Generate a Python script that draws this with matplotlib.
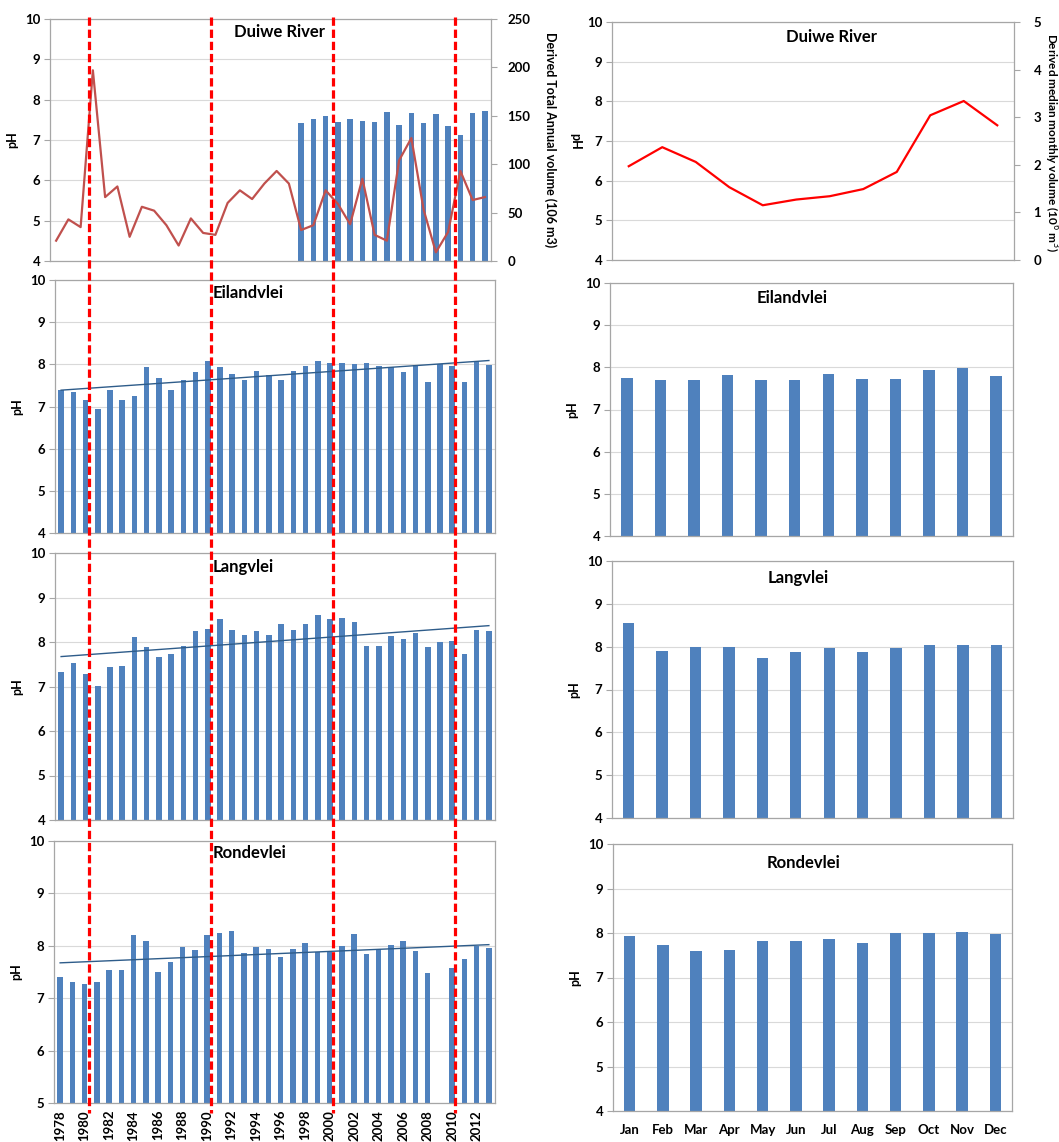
import numpy as np
import matplotlib
matplotlib.use("Agg")
import matplotlib.pyplot as plt
from matplotlib.lines import Line2D
import matplotlib.transforms as mtransforms

plt.rcParams['font.family'] = ['Lato', 'DejaVu Sans']

# ---------------- data ----------------
years = list(range(1978, 2014))
year_labels = [str(y) for y in range(1978, 2014, 2)]
months = ["Jan", "Feb", "Mar", "Apr", "May", "Jun", "Jul", "Aug", "Sep", "Oct", "Nov", "Dec"]

duiwe_volume = [21, 43, 35, 197, 66, 77, 25, 56, 52, 37, 16, 44, 29, 27, 60, 73, 64, 80,
                93, 80, 32, 37, 73, 59, 38, 85, 27, 21, 104, 127, 53, 9, 30, 93, 63, 66]
duiwe_ph_years = list(range(1998, 2014))
duiwe_ph = [7.42, 7.51, 7.60, 7.44, 7.52, 7.46, 7.45, 7.70, 7.37, 7.66, 7.41, 7.65,
            7.35, 7.12, 7.67, 7.72]

eiland_ph = [7.39, 7.34, 7.16, 6.93, 7.40, 7.15, 7.25, 7.93, 7.68, 7.40, 7.64, 7.81,
             8.09, 7.94, 7.78, 7.64, 7.84, 7.74, 7.64, 7.84, 7.96, 8.09, 8.02, 8.02,
             8.01, 8.02, 7.95, 7.94, 7.83, 7.98, 7.59, 8.01, 7.96, 7.57, 8.08, 7.98]
lang_ph = [7.32, 7.52, 7.27, 7.01, 7.43, 7.46, 8.12, 7.88, 7.66, 7.74, 7.90, 8.24,
           8.30, 8.51, 8.26, 8.15, 8.24, 8.15, 8.40, 8.27, 8.40, 8.60, 8.51, 8.53,
           8.44, 7.92, 7.92, 8.14, 8.07, 8.21, 7.89, 8.00, 8.02, 7.73, 8.27, 8.24]
ronde_ph = [7.40, 7.31, 7.27, 7.31, 7.54, 7.53, 8.20, 8.09, 7.50, 7.69, 7.98, 7.92,
            8.20, 8.25, 8.28, 7.87, 7.98, 7.93, 7.79, 7.93, 8.05, 7.88, 7.89, 7.99,
            8.22, 7.84, 7.93, 8.01, 8.10, 7.91, 7.49, np.nan, 7.58, 7.74, 8.00, 7.96]

duiwe_monthly_volume = [1.97, 2.37, 2.06, 1.53, 1.15, 1.27, 1.34, 1.49, 1.85, 3.04, 3.34, 2.83]
eiland_monthly = [7.75, 7.69, 7.71, 7.81, 7.71, 7.71, 7.84, 7.73, 7.73, 7.93, 7.99, 7.79]
lang_monthly = [8.55, 7.89, 8.00, 8.00, 7.73, 7.87, 7.96, 7.88, 7.96, 8.03, 8.05, 8.05]
ronde_monthly = [7.93, 7.72, 7.59, 7.62, 7.83, 7.83, 7.86, 7.78, 7.99, 8.00, 8.03, 7.98]

red_line_years = [1980.3, 1990.3, 2000.25, 2010.2]

# ---------------- style ----------------
W, H = 1059, 1142
BAR = "#4F81BD"
GRID = "#D9D9D9"
SPINE = "#A6A6A6"
TFS = 9.5

fig = plt.figure(figsize=(W / 100, H / 100), dpi=100)


def ax_px(l, t, r, b):
    return fig.add_axes([l / W, 1 - b / H, (r - l) / W, (b - t) / H])


def style(ax, ylim, yticks):
    ax.set_ylim(*ylim)
    ax.set_yticks(yticks)
    ax.grid(axis='y', color=GRID, lw=0.8)
    ax.set_axisbelow(True)
    for s in ax.spines.values():
        s.set_color(SPINE)
        s.set_linewidth(0.9)
    ax.tick_params(axis='y', direction='out', length=4, color=SPINE, labelsize=TFS, pad=3)
    ax.tick_params(axis='x', length=0, labelsize=TFS)
    for lab in ax.get_yticklabels():
        lab.set_fontweight('bold')
    ax.set_ylabel("pH", fontsize=9, fontweight='bold', labelpad=5)


def trend(ax, x, y):
    x = np.array(x, float)
    y = np.array(y, float)
    m = ~np.isnan(y)
    p = np.polyfit(x[m], y[m], 1)
    ax.plot(x, np.polyval(p, x), color="#2E5C8A", lw=1.0, zorder=3)


# ---------------- left column ----------------
axL1 = ax_px(50, 19, 491, 261)
axL1.bar(duiwe_ph_years, duiwe_ph, width=0.45, color=BAR, zorder=2)
axL1.set_xlim(years[0] - 0.5, years[-1] + 0.5)
style(axL1, (4, 10), range(4, 11))
axL1.set_xticks([])
axL1b = axL1.twinx()
axL1b.plot(years, duiwe_volume, color="#C0504D", lw=1.6, zorder=4)
axL1b.set_ylim(0, 250)
axL1b.set_yticks(range(0, 251, 50))
for s in axL1b.spines.values():
    s.set_visible(False)
axL1b.tick_params(axis='y', direction='out', length=4, color=SPINE, labelsize=TFS, pad=8)
for lab in axL1b.get_yticklabels():
    lab.set_fontweight('bold')

left_sets = [((55, 280, 495, 533), eiland_ph, (4, 10), range(4, 11)),
             ((55, 553, 495, 820), lang_ph, (4, 10), range(4, 11)),
             ((54, 841, 495, 1103), ronde_ph, (5, 10), range(5, 11))]
left_axes = []
for pos, vals, yl, yt in left_sets:
    ax = ax_px(*pos)
    ax.bar(years, vals, width=0.45, color=BAR, zorder=2)
    trend(ax, years, vals)
    ax.set_xlim(years[0] - 0.5, years[-1] + 0.5)
    style(ax, yl, yt)
    ax.set_xticks([])
    left_axes.append(ax)

bottom_left = left_axes[-1]
bottom_left.set_xticks([int(y) for y in year_labels])
bottom_left.set_xticklabels(year_labels, rotation=90, fontweight='bold', fontsize=TFS)
bottom_left.tick_params(axis='x', pad=5)

# red dashed lines spanning the left column
tr = mtransforms.blended_transform_factory(left_axes[0].transData, fig.transFigure)
for yr in red_line_years:
    fig.add_artist(Line2D([yr, yr], [1 - 17 / H, 1 - 1113 / H], transform=tr,
                          color="#FF0000", lw=2.3, linestyle=(0, (2.6, 1.2)), zorder=10))

# ---------------- right column ----------------
xm = np.arange(12)
axR1 = ax_px(612, 22, 1014, 260)
axR1.set_xlim(-0.5, 11.5)
style(axR1, (4, 10), range(4, 11))
axR1.set_xticks([])
axR1.set_ylabel("pH", fontsize=9, fontweight='bold', rotation=270, labelpad=13)
axR1b = axR1.twinx()
axR1b.plot(xm, duiwe_monthly_volume, color="#FF0000", lw=1.6)
axR1b.set_ylim(0, 5)
axR1b.set_yticks(range(0, 6))
for s in axR1b.spines.values():
    s.set_visible(False)
axR1b.tick_params(axis='y', direction='out', length=4, color=SPINE, labelsize=TFS, pad=10)
for lab in axR1b.get_yticklabels():
    lab.set_fontweight('bold')

right_sets = [((610, 283, 1013, 536), eiland_monthly),
              ((612, 561, 1013, 818), lang_monthly),
              ((613, 844, 1012, 1111), ronde_monthly)]
right_axes = []
for pos, vals in right_sets:
    ax = ax_px(*pos)
    ax.bar(xm, vals, width=0.34, color=BAR, zorder=2)
    ax.set_xlim(-0.5, 11.5)
    style(ax, (4, 10), range(4, 11))
    ax.set_xticks([])
    right_axes.append(ax)
right_axes[-1].set_xticks(xm)
right_axes[-1].set_xticklabels(months, fontweight='bold', fontsize=TFS)
right_axes[-1].tick_params(axis='x', pad=9)

# ---------------- titles and side labels ----------------
titles = [("Duiwe River", 279, 32), ("Eilandvlei", 248, 293), ("Langvlei", 243, 567),
          ("Rondevlei", 249, 853), ("Duiwe River", 832, 37), ("Eilandvlei", 792, 298),
          ("Langvlei", 798, 578), ("Rondevlei", 803, 863)]
for t, x, y in titles:
    fig.text(x / W, 1 - y / H, t, ha='center', va='center', fontsize=12, fontweight='bold')

fig.text(550 / W, 1 - 140 / H, "Derived Total Annual volume (106 m3)", rotation=270,
         ha='center', va='center', fontsize=9, fontweight='bold')
fig.text(1051 / W, 1 - 143 / H, "Derived median monthly volume (10$^6$ m$^3$)", rotation=270,
         ha='center', va='center', fontsize=8.5, fontweight='bold')

fig.savefig("out.png", dpi=100, facecolor='white')
